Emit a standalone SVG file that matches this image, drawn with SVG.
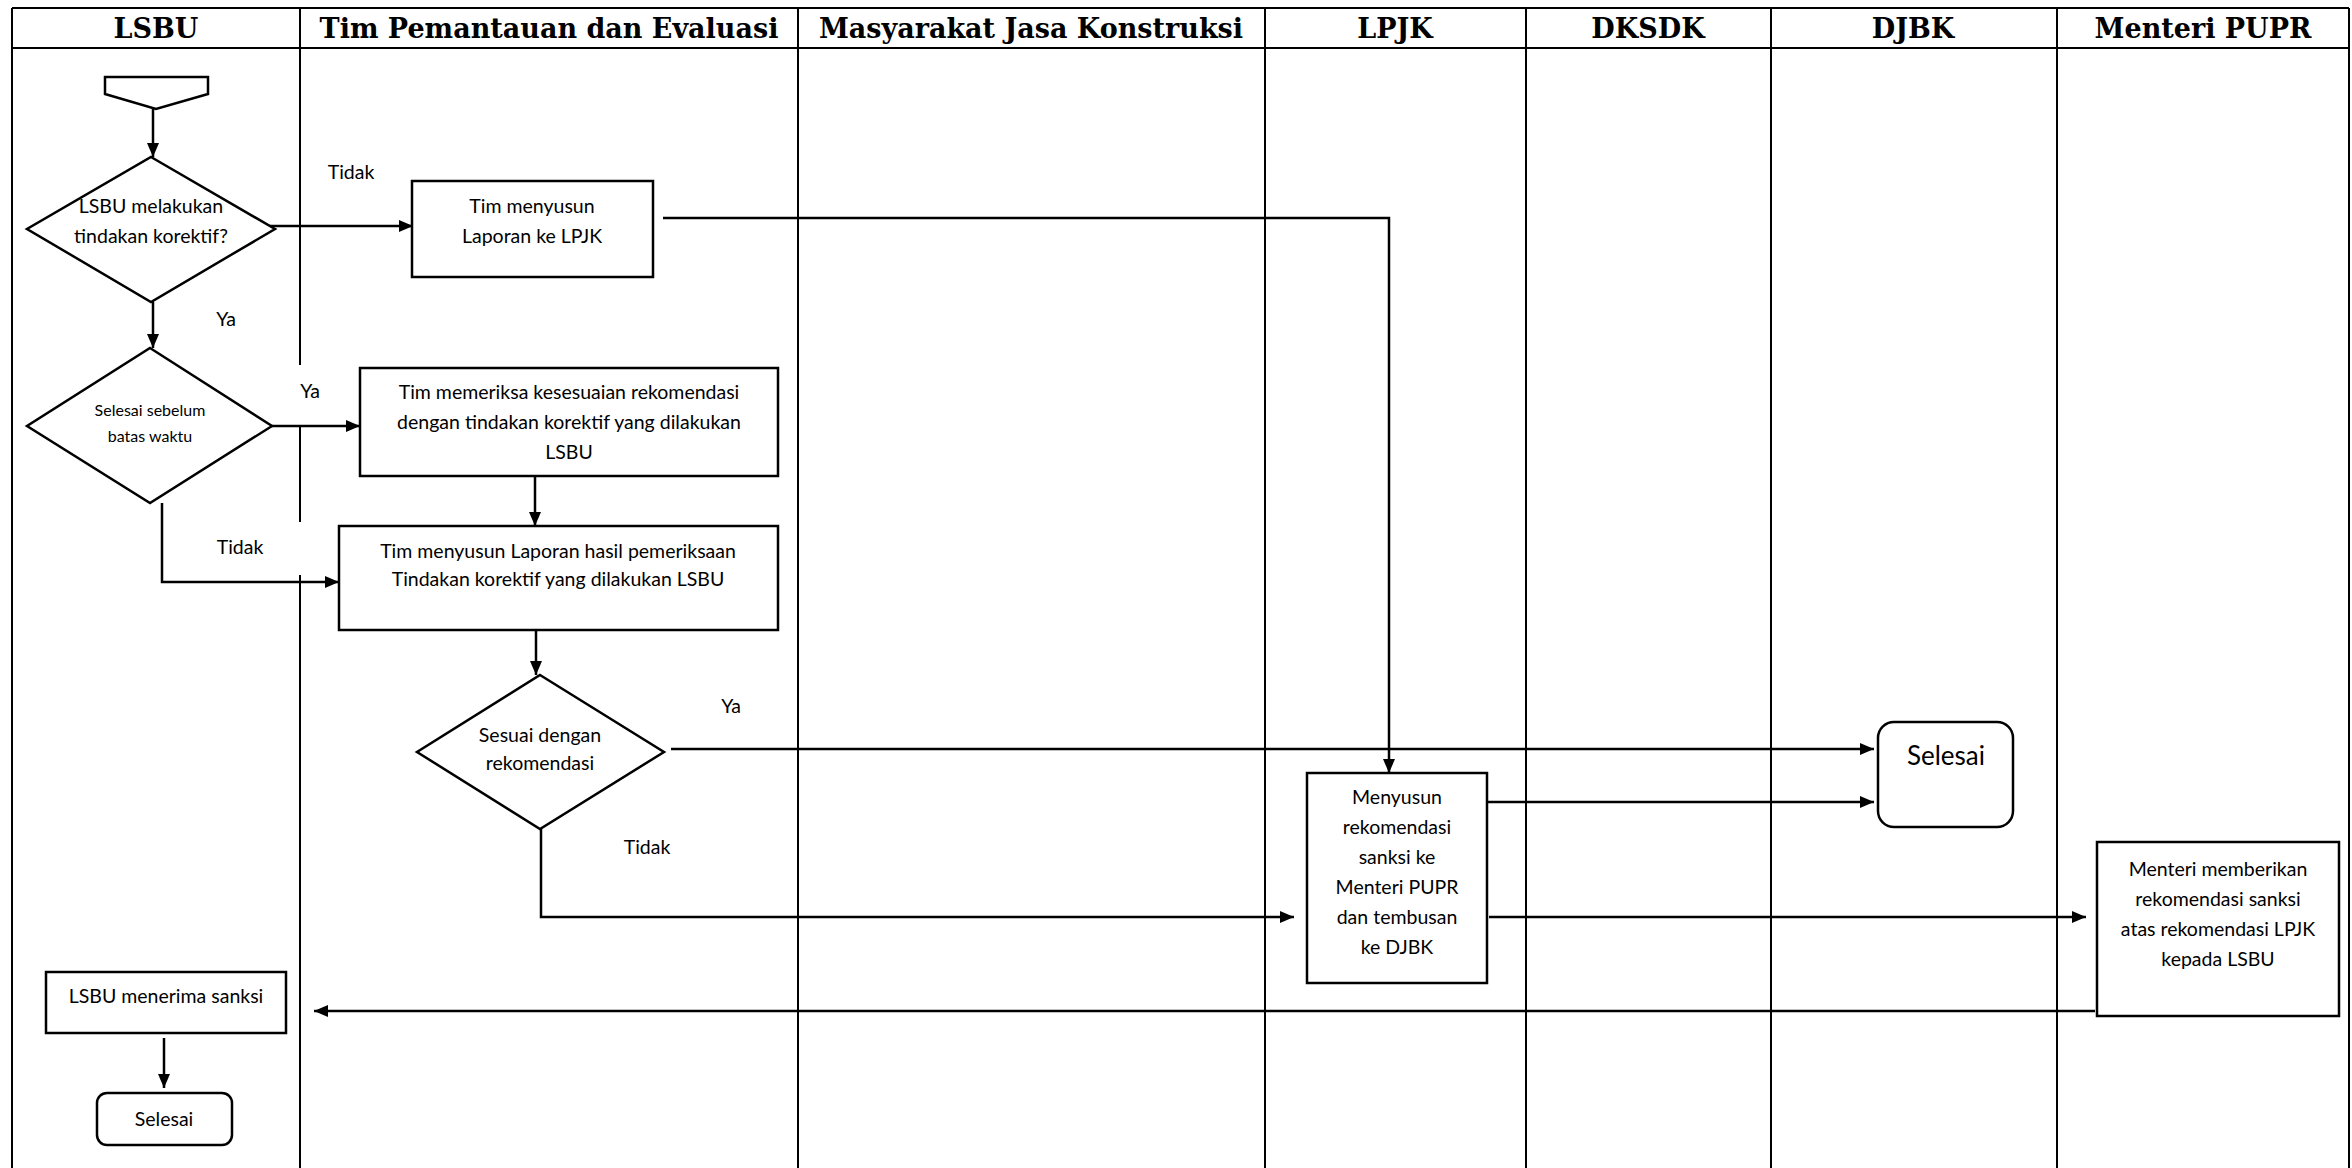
<svg xmlns="http://www.w3.org/2000/svg" width="2352" height="1168" viewBox="0 0 2352 1168">
<style>
.hdr{font-family:"DejaVu Serif","Liberation Serif",serif;font-weight:bold;font-size:27px;text-anchor:middle;fill:#000}
.t{font-family:Lato,"Open Sans",sans-serif;font-size:19.5px;text-anchor:middle;fill:#000}
.s{font-size:16px}
.b{font-size:26px}
.box{fill:#fff;stroke:#000;stroke-width:2.5}
.conn{fill:none;stroke:#000;stroke-width:2.5}
.sep{stroke:#000;stroke-width:2;fill:none}
</style>
<defs>
<marker id="ah" markerWidth="14" markerHeight="12" refX="14" refY="6" orient="auto" markerUnits="userSpaceOnUse"><path d="M0,0 L14,6 L0,12 z" fill="#000"/></marker>
</defs>
<rect width="2352" height="1168" fill="#fff"/>
<g id="lanes">
<path class="sep" d="M12,8 H2349 M12,48 H2349 M12,8 V1168 M2349,8 V1168"/>
<path class="sep" d="M300,8 V365 M300,425 V522 M300,575 V1168"/>
<path class="sep" d="M798,8 V1168 M1265,8 V1168 M1526,8 V1168 M1771,8 V1168 M2057,8 V1168"/>
<text class="hdr" x="156" y="38">LSBU</text>
<text class="hdr" x="549" y="38">Tim Pemantauan dan Evaluasi</text>
<text class="hdr" x="1031" y="38">Masyarakat Jasa Konstruksi</text>
<text class="hdr" x="1395" y="38">LPJK</text>
<text class="hdr" x="1648" y="38">DKSDK</text>
<text class="hdr" x="1913" y="38">DJBK</text>
<text class="hdr" x="2203" y="38">Menteri PUPR</text>
</g>
<g id="connectors">
<path class="conn" d="M153,109 V157" marker-end="url(#ah)"/>
<path class="conn" d="M268,226 H413" marker-end="url(#ah)"/>
<path class="conn" d="M663,218 H1389 V773" marker-end="url(#ah)"/>
<path class="conn" d="M153,302 V348" marker-end="url(#ah)"/>
<path class="conn" d="M270,426 H360" marker-end="url(#ah)"/>
<path class="conn" d="M535,476 V526" marker-end="url(#ah)"/>
<path class="conn" d="M162,503 V582 H339" marker-end="url(#ah)"/>
<path class="conn" d="M536,630 V675" marker-end="url(#ah)"/>
<path class="conn" d="M671,749 H1874" marker-end="url(#ah)"/>
<path class="conn" d="M541,829 V917 H1294" marker-end="url(#ah)"/>
<path class="conn" d="M1487,802 H1874" marker-end="url(#ah)"/>
<path class="conn" d="M1489,917 H2086" marker-end="url(#ah)"/>
<path class="conn" d="M2095,1011 H314" marker-end="url(#ah)"/>
<path class="conn" d="M164,1038 V1088" marker-end="url(#ah)"/>
<text class="t" x="351" y="179">Tidak</text>
<text class="t" x="226" y="326">Ya</text>
<text class="t" x="310" y="398">Ya</text>
<text class="t" x="240" y="554">Tidak</text>
<text class="t" x="731" y="713">Ya</text>
<text class="t" x="647" y="854">Tidak</text>
</g>
<g id="start">
<path class="box" d="M105,77 H208 V94 L156,109 L105,94 Z"/>
</g>
<g id="dec1">
<path class="box" d="M151,157 L275,229 L151,302 L27,229 Z"/>
<text class="t" x="151" y="213">LSBU melakukan</text>
<text class="t" x="151" y="243">tindakan korektif?</text>
</g>
<g id="lapor1">
<rect class="box" x="412" y="181" width="241" height="96"/>
<text class="t" x="532" y="213">Tim menyusun</text>
<text class="t" x="532" y="243">Laporan ke LPJK</text>
</g>
<g id="dec2">
<path class="box" d="M150,348 L272,426 L150,503 L27,426 Z"/>
<text class="t s" x="150" y="416">Selesai sebelum</text>
<text class="t s" x="150" y="442">batas waktu</text>
</g>
<g id="periksa">
<rect class="box" x="360" y="368" width="418" height="108"/>
<text class="t" x="569" y="399">Tim memeriksa kesesuaian rekomendasi</text>
<text class="t" x="569" y="429">dengan tindakan korektif yang dilakukan</text>
<text class="t" x="569" y="459">LSBU</text>
</g>
<g id="lapor2">
<rect class="box" x="339" y="526" width="439" height="104"/>
<text class="t" x="558" y="558">Tim menyusun Laporan hasil pemeriksaan</text>
<text class="t" x="558" y="586">Tindakan korektif yang dilakukan LSBU</text>
</g>
<g id="dec3">
<path class="box" d="M540,675 L664,752 L540,829 L417,752 Z"/>
<text class="t" x="540" y="742">Sesuai dengan</text>
<text class="t" x="540" y="770">rekomendasi</text>
</g>
<g id="lpjk">
<rect class="box" x="1307" y="773" width="180" height="210"/>
<text class="t" x="1397" y="804">Menyusun</text>
<text class="t" x="1397" y="834">rekomendasi</text>
<text class="t" x="1397" y="864">sanksi ke</text>
<text class="t" x="1397" y="894">Menteri PUPR</text>
<text class="t" x="1397" y="924">dan tembusan</text>
<text class="t" x="1397" y="954">ke DJBK</text>
</g>
<g id="selesai1">
<rect class="box" x="1878" y="722" width="135" height="105" rx="16"/>
<text class="t b" x="1946" y="765">Selesai</text>
</g>
<g id="menteri">
<rect class="box" x="2097" y="842" width="242" height="174"/>
<text class="t" x="2218" y="876">Menteri memberikan</text>
<text class="t" x="2218" y="906">rekomendasi sanksi</text>
<text class="t" x="2218" y="936">atas rekomendasi LPJK</text>
<text class="t" x="2218" y="966">kepada LSBU</text>
</g>
<g id="terima">
<rect class="box" x="46" y="972" width="240" height="61"/>
<text class="t" x="166" y="1003">LSBU menerima sanksi</text>
</g>
<g id="selesai2">
<rect class="box" x="97" y="1093" width="135" height="52" rx="10"/>
<text class="t" x="164" y="1126">Selesai</text>
</g>
</svg>
